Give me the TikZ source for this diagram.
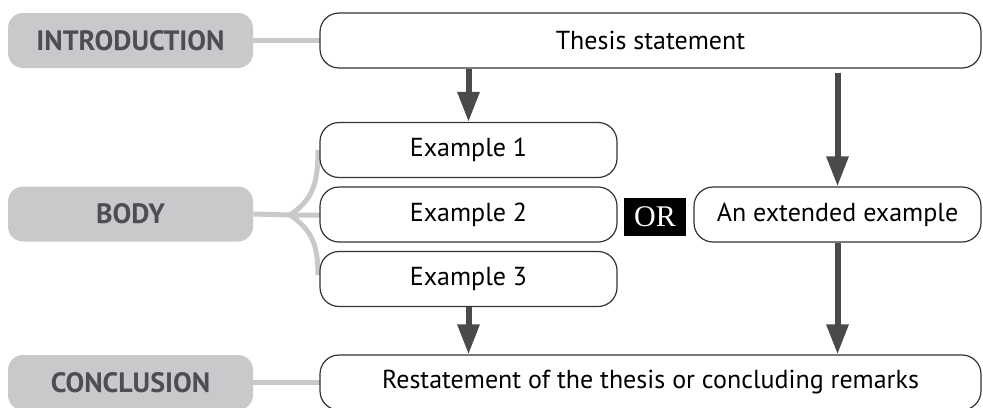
\documentclass[tikz,border=0pt]{standalone}
\usepackage{fontspec}
\setmainfont{PT Sans}
\newfontfamily\orfont{Liberation Serif}
\usetikzlibrary{arrows.meta}
\definecolor{partgray}{HTML}{C8C9CB}
\definecolor{labelgray}{HTML}{4D4E52}
\definecolor{arrowgray}{HTML}{4A4A4A}
\tikzstyle{part} = [rectangle, rounded corners=7.5pt, minimum width=122.5pt, minimum height=27.5pt, text centered, fill=partgray, text=labelgray, font=\bfseries\fontsize{14}{16}\selectfont]
\tikzstyle{stage} = [rectangle, rounded corners=9.5pt, minimum height=27.5pt, text centered, draw=black!80, line width=0.6pt, fill=white, font=\fontsize{13}{15}\selectfont]
\tikzstyle{link} = [draw=partgray, line width=2.5pt]
\tikzstyle{arrow} = [draw=arrowgray, line width=3pt, -{Triangle[width=10.5pt,length=15pt]}]

\begin{document}
\begin{tikzpicture}[x=0.5pt, y=-0.5pt, node distance=32.25pt]
\useasboundingbox (0,0) rectangle (983,407);

%left column
\node (intro) [part] at (130.5,40.5) {INTRODUCTION};
\node (body) [part] at (130.5,214) {BODY};
\node (concl) [part] at (130.5,382.5) {CONCLUSION};
\coordinate (fork) at (290,215);

%gray links
\draw [link] (intro.east) -- (320,40.5);
\draw [link] (concl.east) -- (320,382.5);
\draw [link] (body.east) -- (fork) -- (320,215);
\draw [link] (fork) .. controls (312,200) and (318,185) .. (318,150);
\draw [link] (fork) .. controls (312,230) and (318,245) .. (318,275);

%boxes
\node (thesis) [stage, minimum width=330.5pt] at (650.5,40.5) {Thesis statement};
\node (ex1) [stage, minimum width=148.5pt] at (468.5,150) {Example 1};
\node (ex2) [stage, minimum width=148.5pt, below of=ex1] {Example 2};
\node (ex3) [stage, minimum width=148.5pt, below of=ex2] {Example 3};
\node (or) [fill=black, text=white, minimum width=31pt, minimum height=19pt, inner sep=0pt, font=\orfont\fontsize{15}{15}\selectfont] at (655,217) {OR};
\node (ext) [stage, minimum width=143.5pt] at (837.5,214.5) {An extended example};
\node (restate) [stage, minimum width=330.5pt] at (650.5,382.5) {Restatement of the thesis or concluding remarks};

%arrows
\draw [arrow] (thesis.south -| ex1.north) -- (ex1.north);
\draw [arrow, shorten <=2pt] (thesis.south -| ext.north) -- (ext.north);
\draw [arrow] (ex3.south) -- (restate.north -| ex3.south);
\draw [arrow] (ext.south) -- (restate.north -| ext.south);

\end{tikzpicture}
\end{document}
